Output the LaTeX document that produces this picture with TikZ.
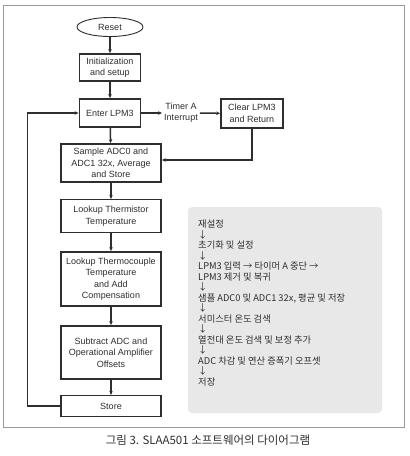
\documentclass[tikz,border=0pt]{standalone}
\usepackage{fontspec}
\setmainfont{Liberation Sans}
\newfontfamily\kor{Noto Sans CJK KR}
\usetikzlibrary{shapes.geometric, arrows.meta, positioning}

\definecolor{inkgray}{HTML}{2E2E2E}
\definecolor{framegray}{HTML}{9A9A9A}
\definecolor{panelgray}{HTML}{E8E8E8}

\begin{document}
\begin{tikzpicture}[x=1pt, y=-1pt,
    stepbox/.style={rectangle, draw=inkgray, line width=1.8pt, minimum width=61pt, minimum height=27pt, align=center, inner sep=1pt, text=inkgray, font=\fontsize{9}{11.5}\selectfont},
    widebox/.style={stepbox, minimum width=100pt},
    thinbox/.style={widebox, line width=1.1pt},
    startnode/.style={ellipse, draw=inkgray, line width=0.9pt, minimum width=66pt, minimum height=19pt, inner sep=0pt, text=inkgray, font=\fontsize{9}{11}\selectfont},
    arrow/.style={-{Stealth[length=4pt, width=3.5pt]}, draw=inkgray, line width=1.5pt},
    label/.style={align=center, inner sep=2pt, text=inkgray, font=\fontsize{9}{11}\selectfont}
]
    \useasboundingbox (0,0) rectangle (410,456);

    % Outer frame
    \draw[framegray, line width=1pt] (3,5) rectangle (404,427);

    % Start
    \node[startnode] (reset) at (110,27) {Reset};

    % Setup
    \node[stepbox] (init) at (110,67.5) {Initialization\\and setup};
    \draw[arrow] (reset) -- (init);

    % Low power mode
    \node[stepbox, minimum height=28pt] (enter) at (110,113) {Enter LPM3};
    \draw[arrow] (init) -- (enter);

    % Timer interrupt
    \node[label] (timer) at (181,113) {Timer A\\Interrupt};
    \draw[arrow] (enter) -- (timer);

    \node[stepbox, minimum width=62pt, minimum height=29pt] (clear) at (252,113.5) {Clear LPM3\\and Return};
    \draw[arrow] (timer) -- (clear);

    % Sampling
    \node[widebox, minimum height=38pt] (sample) at (111,163) {Sample ADC0 and\\ADC1 32x, Average\\and Store};
    \draw[arrow] (enter) -- (sample);
    \draw[arrow] (clear.south) |- ([yshift=3pt]sample.east);

    % Temperature lookups
    \node[thinbox, minimum height=33pt] (thermistor) at (111,216) {Lookup Thermistor\\Temperature};
    \draw[arrow] (sample) -- (thermistor);

    \node[widebox, minimum height=54pt] (thermocouple) at (111,279) {Lookup Thermocouple\\Temperature\\and Add\\Compensation};
    \draw[arrow] (thermistor) -- (thermocouple);

    % Offsets
    \node[widebox, minimum height=53pt] (subtract) at (111,352.5) {Subtract ADC and\\Operational Amplifier\\Offsets};
    \draw[arrow] (thermocouple) -- (subtract);

    % Store and loop back
    \node[thinbox, minimum height=21pt] (store) at (111,406) {Store};
    \draw[arrow] (subtract) -- (store);
    \draw[arrow] (store.west) -- ++(-33,0) |- (enter.west);

    % Korean summary panel
    \node[fill=panelgray, rounded corners=4pt, minimum width=194pt, minimum height=206pt] (panel) at (285,310) {};
    \node[anchor=north west, align=left, inner sep=0pt, text=inkgray, font=\kor\fontsize{9.3}{10.5}\selectfont] (steps) at (198,220) {재설정\\
        ↓\\
        초기화 및 설정\\
        ↓\\
        LPM3 입력 → 타이머 A 중단 →\\
        LPM3 제거 및 복귀\\
        ↓\\
        샘플 ADC0 및 ADC1 32x, 평균 및 저장\\
        ↓\\
        서미스터 온도 검색\\
        ↓\\
        열전대 온도 검색 및 보정 추가\\
        ↓\\
        ADC 차감 및 연산 증폭기 오프셋\\
        ↓\\
        저장};

    % Caption
    \node[text=inkgray, font=\kor\fontsize{11.5}{13}\selectfont] (caption) at (208,440) {그림 3. SLAA501 소프트웨어의 다이어그램};
\end{tikzpicture}
\end{document}
